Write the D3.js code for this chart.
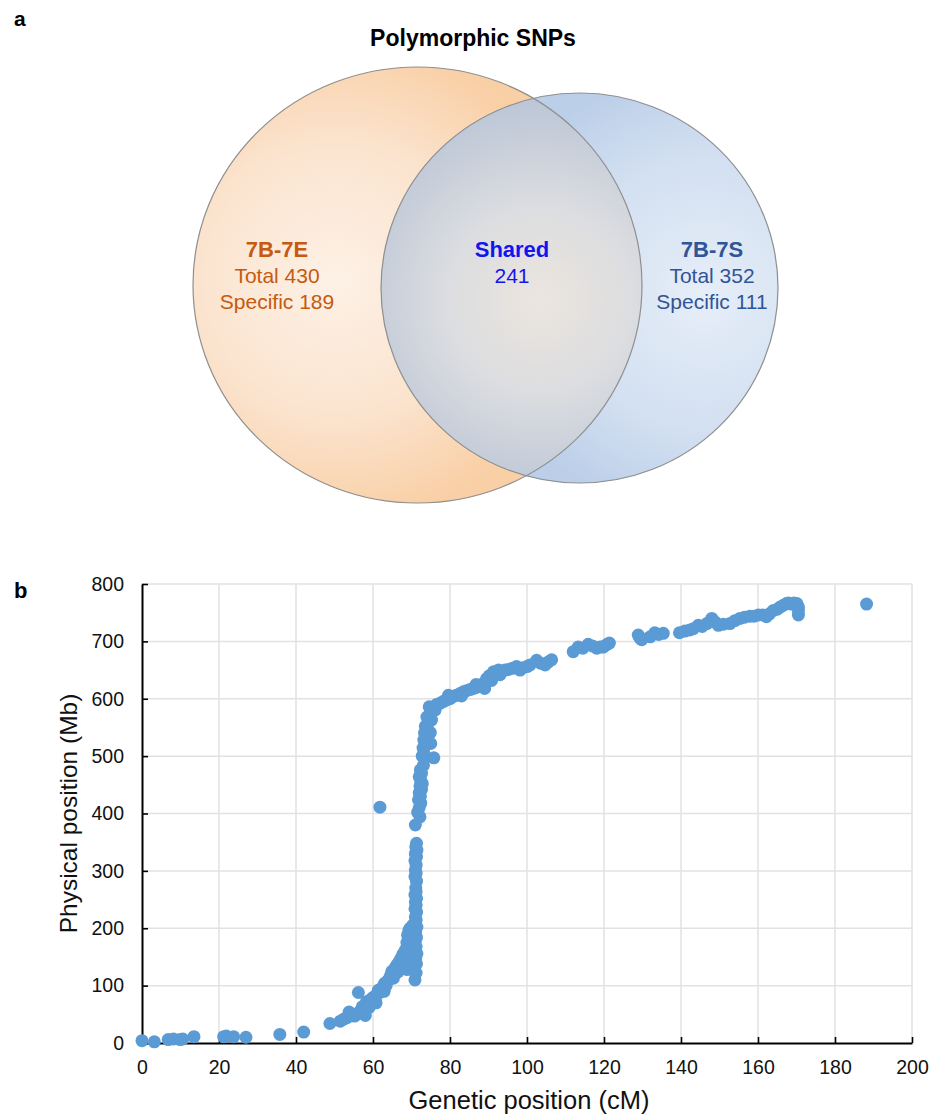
<!DOCTYPE html>
<html>
<head>
<meta charset="utf-8">
<script src="https://cdn.jsdelivr.net/npm/d3@7/dist/d3.min.js"></script>
<style>
  html, body { margin: 0; padding: 0; background: #ffffff; }
  svg { display: block; font-family: "Liberation Sans", Arial, Helvetica, sans-serif; }
</style>
</head>
<body>
<svg id="fig" width="929" height="1115"></svg>
<script>
// ---- Panel a: Venn diagram of polymorphic SNPs ----
const vennTitle = "Polymorphic SNPs";
const setNames = ["7B-7E", "7B-7S"];
const setTotals = [430, 352];
const setSpecific = [189, 111];
const sharedCount = 241;

// ---- Panel b: genetic vs physical position of mapped SNPs ----
const xTicks = [0, 20, 40, 60, 80, 100, 120, 140, 160, 180, 200];
const yTicks = [0, 100, 200, 300, 400, 500, 600, 700, 800];
const xTitle = "Genetic position (cM)";
const yTitle = "Physical position (Mb)";

// genetic position (cM), physical position (Mb)
const distalShort = [
  [0, 4], [3.2, 2], [6.8, 6], [8.2, 7], [9.9, 6], [10.6, 7], [13.5, 11],
  [21.2, 11], [21.9, 12], [23.8, 11], [27, 10], [35.8, 15], [42, 19], [48.8, 34]
];
const proximalShort = [
  [51.5, 38], [52.5, 42], [53.2, 44], [53.8, 54], [54.5, 48], [55.2, 47], [55.8, 50],
  [56.2, 88], [56.6, 55], [57.2, 63], [57.5, 52], [57.9, 55], [58.3, 72], [58.8, 68],
  [59.3, 75], [59.8, 78], [60.2, 80], [60.6, 75], [61, 85], [61.4, 92], [61.8, 88],
  [62.2, 95], [62.6, 98], [63, 104], [63.4, 100], [63.8, 108], [64.2, 112], [64.6, 118],
  [65.3, 113], [65.8, 132], [66.3, 137], [66.8, 142], [67.3, 148], [67.8, 155],
  [58.0, 48], [59.0, 62], [60.8, 70], [62.9, 90], [64.9, 125], [66.5, 124],
  [61.8, 411]
];
const pericentric = [
  [68.0, 150], [68.4, 162], [68.8, 175], [69.0, 188], [69.3, 196], [69.6, 200],
  [69.4, 170], [69.8, 182], [70.0, 192], [70.2, 168], [69.2, 155], [68.6, 142],
  [70.3, 205], [69.9, 158], [70.4, 178], [69.6, 145], [70.1, 132], [68.9, 128],
  [70.9, 110], [71.2, 122], [70.8, 130], [71.3, 138], [70.6, 142], [71.1, 148],
  [70.4, 152], [71.4, 156], [70.9, 162], [71.2, 168], [70.5, 172], [71.0, 178],
  [71.3, 184], [70.7, 188], [71.1, 194], [70.3, 198], [71.4, 202], [70.8, 208],
  [71.2, 214], [71.0, 220], [71.3, 228], [70.9, 234], [71.2, 240], [71.0, 246],
  [71.3, 252], [70.9, 258], [71.2, 264], [71.1, 270], [71.3, 282], [70.9, 290],
  [71.2, 296], [71.0, 302], [71.2, 310], [70.9, 318], [71.3, 324], [71.0, 330],
  [71.4, 336], [71.1, 342], [71.3, 348],
  [71.0, 380], [72.2, 394], [71.6, 402], [72.0, 410], [72.4, 418], [71.8, 424],
  [72.3, 430], [72.0, 436], [72.6, 442], [72.2, 448], [72.8, 452], [72.4, 458],
  [72.0, 464], [72.6, 470], [72.3, 476], [73.1, 484], [75.8, 497], [72.8, 500],
  [73.2, 506], [73.0, 514], [73.5, 520], [75.0, 522], [73.2, 528], [73.8, 534],
  [73.4, 540], [74.1, 545], [73.6, 552], [74.4, 558], [75.2, 563], [74.0, 568],
  [74.8, 574], [75.4, 580], [74.6, 586], [74.9, 541], [73.3, 497]
];
const longArm = [
  [75.5, 585], [76.1, 580], [76.5, 590], [77.4, 592], [78.2, 595], [79.1, 598],
  [80, 600], [80.9, 604], [81.6, 606], [82.6, 609], [83.5, 612], [84.3, 614],
  [85.2, 616], [86.1, 618], [87, 620], [87.8, 622], [88.7, 627], [89.5, 635],
  [90.2, 640], [91.3, 647], [92, 645], [92.6, 650], [93.5, 648], [94.3, 650],
  [95.2, 651], [96.2, 653], [97.3, 656], [98.2, 650], [99, 654], [100, 656],
  [100.8, 659], [102.5, 667], [103.5, 662], [104.7, 659], [105.5, 664], [106.4, 668],
  [79.6, 606], [83.0, 605], [86.8, 625], [89.0, 618], [90.8, 632], [93.0, 642],
  [112, 682], [113.3, 690], [114.5, 688], [115.9, 695], [117, 692], [118.1, 688],
  [119, 690], [119.8, 690], [120.6, 694], [121.4, 697],
  [128.9, 711], [129.3, 706], [129.8, 703], [132, 708], [133.2, 715], [134.2, 712],
  [135.4, 714], [139.6, 715], [141, 718], [142.3, 720], [143.2, 722], [144.5, 728],
  [145.5, 726], [146.7, 731], [148, 740], [148.8, 734], [149.7, 728], [151, 730],
  [152.7, 731], [154, 736], [155.3, 740], [156.5, 742], [157.9, 744], [159, 744],
  [160.1, 746], [161.2, 746], [162.2, 743], [163, 748], [164, 754], [165, 756],
  [165.8, 760], [166.6, 763], [167.4, 766], [167.9, 767], [168.6, 765], [169.3, 767],
  [170.1, 766], [170.5, 760], [170.5, 754], [170.5, 746], [188.2, 765]
];

const svg = d3.select("#fig");
const defs = svg.append("defs");

// ===== Panel a =====
svg.append("text").attr("x", 14).attr("y", 26)
  .attr("font-size", 21).attr("font-weight", "bold").text("a");

svg.append("text").attr("x", 473).attr("y", 46).attr("text-anchor", "middle")
  .attr("font-size", 23).attr("font-weight", "bold").text(vennTitle);

const ellA = { cx: 417.5, cy: 285, rx: 224.5, ry: 218 };
const ellB = { cx: 579.5, cy: 288, rx: 198.5, ry: 195 };

function radial(id, cx, cy, r, stops) {
  const g = defs.append("radialGradient").attr("id", id)
    .attr("gradientUnits", "userSpaceOnUse")
    .attr("cx", cx).attr("cy", cy).attr("r", r);
  stops.forEach(([o, c]) => g.append("stop").attr("offset", o).attr("stop-color", c));
}
radial("gradA", 335, 280, 245, [[0, "#fdf1e6"], [0.55, "#fbe4cf"], [1, "#f9cfa5"]]);
radial("gradB", 705, 295, 225, [[0, "#e6eef8"], [0.6, "#d3e0f1"], [1, "#bccfe9"]]);
radial("gradAB", 540, 300, 205, [[0, "#ebe5de"], [0.45, "#dcdde0"], [1, "#bac5d6"]]);

defs.append("clipPath").attr("id", "clipA")
  .append("ellipse").attr("cx", ellA.cx).attr("cy", ellA.cy).attr("rx", ellA.rx).attr("ry", ellA.ry);

const venn = svg.append("g");
venn.append("ellipse").attr("cx", ellA.cx).attr("cy", ellA.cy).attr("rx", ellA.rx).attr("ry", ellA.ry)
  .attr("fill", "url(#gradA)");
venn.append("ellipse").attr("cx", ellB.cx).attr("cy", ellB.cy).attr("rx", ellB.rx).attr("ry", ellB.ry)
  .attr("fill", "url(#gradB)");
venn.append("ellipse").attr("cx", ellB.cx).attr("cy", ellB.cy).attr("rx", ellB.rx).attr("ry", ellB.ry)
  .attr("clip-path", "url(#clipA)").attr("fill", "url(#gradAB)");
[ellA, ellB].forEach(e => venn.append("ellipse")
  .attr("cx", e.cx).attr("cy", e.cy).attr("rx", e.rx).attr("ry", e.ry)
  .attr("fill", "none").attr("stroke", "#8f8f8f").attr("stroke-width", 1.2));

function vennLabel(x, color, lines) {
  const t = svg.append("text").attr("text-anchor", "middle").attr("fill", color);
  lines.forEach((s, i) => t.append("tspan").attr("x", x).attr("y", 257 + i * 26)
    .attr("font-size", i === 0 ? 22 : 21).attr("font-weight", i === 0 ? "bold" : "normal").text(s));
}
vennLabel(277, "#c55a11", [setNames[0], `Total ${setTotals[0]}`, `Specific ${setSpecific[0]}`]);
vennLabel(512, "#1414f0", ["Shared", String(sharedCount)]);
vennLabel(712, "#2f5597", [setNames[1], `Total ${setTotals[1]}`, `Specific ${setSpecific[1]}`]);

// ===== Panel b =====
svg.append("text").attr("x", 14).attr("y", 598)
  .attr("font-size", 22).attr("font-weight", "bold").text("b");

const x = d3.scaleLinear().domain([0, 200]).range([142, 912]);
const y = d3.scaleLinear().domain([0, 800]).range([1043, 584]);

const grid = svg.append("g").attr("stroke", "#e2e2e2").attr("stroke-width", 1.5);
grid.selectAll(".gx").data(xTicks.slice(1)).join("line")
  .attr("x1", d => x(d)).attr("x2", d => x(d)).attr("y1", y(0)).attr("y2", y(800));
grid.selectAll(".gy").data(yTicks.slice(1)).join("line")
  .attr("y1", d => y(d)).attr("y2", d => y(d)).attr("x1", x(0)).attr("x2", x(200));

const xAxis = svg.append("g").attr("transform", `translate(0,${y(0)})`)
  .call(d3.axisBottom(x).tickValues(xTicks).tickSizeInner(-6).tickSizeOuter(0).tickPadding(17));
const yAxis = svg.append("g").attr("transform", `translate(${x(0)},0)`)
  .call(d3.axisLeft(y).tickValues(yTicks).tickSizeInner(-6).tickSizeOuter(0).tickPadding(18));
[xAxis, yAxis].forEach(a => {
  a.select(".domain").attr("stroke", "#000").attr("stroke-width", 2);
  a.selectAll(".tick line").attr("stroke", "#000").attr("stroke-width", 1.6);
  a.selectAll(".tick text").attr("font-size", 19.5).attr("fill", "#111")
    .attr("font-family", "'Liberation Sans', Arial, Helvetica, sans-serif");
});

svg.append("text").attr("x", (x(0) + x(200)) / 2 + 2).attr("y", 1109).attr("text-anchor", "middle")
  .attr("font-size", 25.5).attr("fill", "#111").text(xTitle);
svg.append("text").attr("transform", `translate(77,${(y(0) + y(800)) / 2}) rotate(-90)`)
  .attr("text-anchor", "middle").attr("font-size", 24.5).attr("fill", "#111").text(yTitle);

const points = [...distalShort, ...proximalShort, ...pericentric, ...longArm];
svg.append("g").selectAll("circle").data(points).join("circle")
  .attr("cx", d => x(d[0])).attr("cy", d => y(d[1])).attr("r", 6.5)
  .attr("fill", "#5b9bd5");
</script>
</body>
</html>
